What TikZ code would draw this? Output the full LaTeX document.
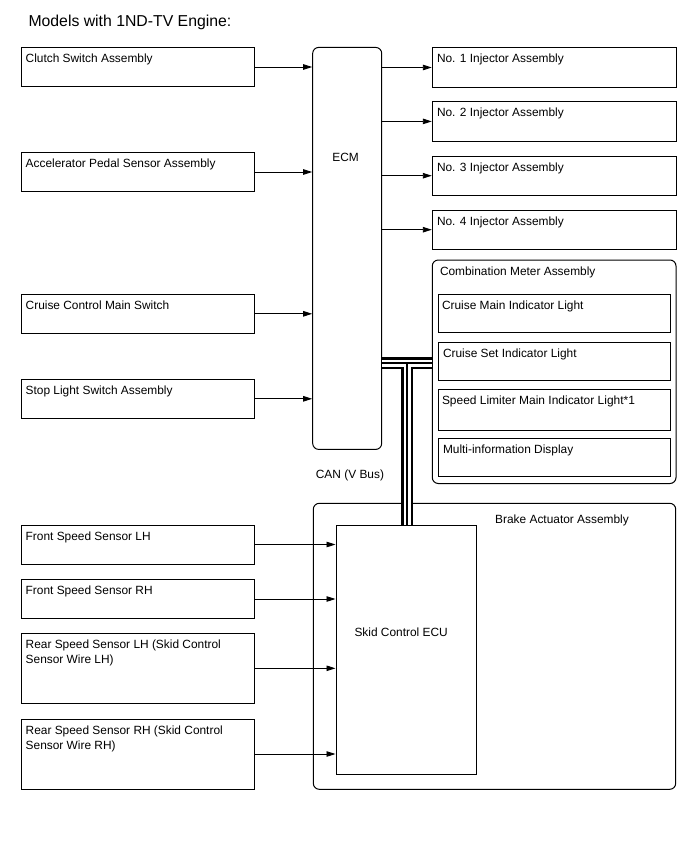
\documentclass[tikz,border=0pt]{standalone}
\usepackage{fontspec}
\setmainfont{Liberation Sans}
\usetikzlibrary{arrows.meta}

\begin{document}
\begin{tikzpicture}[x=1pt, y=-1pt,
    every node/.style={font=\fontsize{11.9}{15}\selectfont},
    lbl/.style={anchor=north west, inner sep=0pt, align=left, label distance=0pt, xshift=5pt, yshift=-6.7pt},
    part/.style={rectangle, draw=black, line width=1pt, inner sep=0pt},
    sensor/.style={part, minimum width=233.5pt, minimum height=39pt},
    wide/.style={sensor, minimum height=70pt},
    injector/.style={part, minimum width=243.7pt, minimum height=39.3pt},
    lamp/.style={part, minimum width=231.7pt, minimum height=38.4pt},
    unitbox/.style={part, rounded corners=6pt},
    sig/.style={line width=0.9pt, -{Triangle[length=9pt, width=5.5pt]}},
    busouter/.style={line width=12pt, black},
    businner/.style={line width=7pt, white},
    buscore/.style={line width=1.2pt, black}
  ]
    \useasboundingbox (0,0) rectangle (688,852);
    \node[anchor=base west, inner sep=0pt, font=\fontsize{15.8}{18}\selectfont] (title) at (28.3,26.7) {Models with 1ND-TV Engine:};

    % inputs to the ECM
    \node[sensor, label={[lbl]north west:Clutch Switch Assembly}] (clutch) at (137.75,67) {};
    \node[sensor, label={[lbl]north west:Accelerator Pedal Sensor Assembly}] (accel) at (137.75,172) {};
    \node[sensor, label={[lbl]north west:Cruise Control Main Switch}] (cruisesw) at (137.75,313.8) {};
    \node[sensor, label={[lbl]north west:Stop Light Switch Assembly}] (stopsw) at (137.75,398.8) {};

    \node[unitbox, minimum width=69pt, minimum height=402pt] (ecm) at (347.2,248.4) {};
    \node[anchor=base west, inner sep=0pt] (ecmtext) at (332.2,161.5) {ECM};

    % injectors
    \node[injector, label={[lbl]north west:No. 1 Injector Assembly}] (inj1) at (554.15,67.5) {};
    \node[injector, label={[lbl]north west:No. 2 Injector Assembly}] (inj2) at (554.15,121.4) {};
    \node[injector, label={[lbl]north west:No. 3 Injector Assembly}] (inj3) at (554.15,175.7) {};
    \node[injector, label={[lbl]north west:No. 4 Injector Assembly}] (inj4) at (554.15,229.7) {};

    % combination meter
    \node[unitbox, minimum width=243.7pt, minimum height=223.5pt, label={[lbl, xshift=3pt]north west:Combination Meter Assembly}] (meter) at (554.15,371.75) {};
    \node[lamp, label={[lbl, xshift=-1pt]north west:Cruise Main Indicator Light}] (lamp1) at (554.15,313.5) {};
    \node[lamp, label={[lbl]north west:Cruise Set Indicator Light}] (lamp2) at (554.15,361.7) {};
    \node[lamp, minimum height=40.7pt, label={[lbl, xshift=-1pt]north west:\resizebox{193pt}{\height}{Speed Limiter Main Indicator Light*1}}] (lamp3) at (554.15,409.65) {};
    \node[lamp, label={[lbl]north west:Multi-information Display}] (lamp4) at (554.15,457.7) {};

    % brake actuator
    \node[unitbox, minimum width=362.4pt, minimum height=286pt] (brake) at (494.5,646.3) {};
    \node[anchor=base west, inner sep=0pt] (braketext) at (495,523) {Brake Actuator Assembly};
    \node[part, minimum width=140pt, minimum height=249pt] (skid) at (406,649.5) {};
    \node[anchor=base west, inner sep=0pt] (skidtext) at (354.3,636.7) {Skid Control ECU};

    \node[sensor, label={[lbl]north west:Front Speed Sensor LH}] (frontlh) at (137.75,544.5) {};
    \node[sensor, label={[lbl]north west:Front Speed Sensor RH}] (frontrh) at (137.75,599) {};
    \node[wide, label={[lbl]north west:{Rear Speed Sensor LH (Skid Control\\Sensor Wire LH)}}] (rearlh) at (137.75,668.3) {};
    \node[wide, label={[lbl]north west:{Rear Speed Sensor RH (Skid Control\\Sensor Wire RH)}}] (rearrh) at (137.75,754) {};

    \foreach \n in {clutch,accel,cruisesw,stopsw}
      \draw[sig] (\n.east) -- (\n.east -| ecm.west);
    \foreach \n in {inj1,inj2,inj3,inj4}
      \draw[sig] (\n.west -| ecm.east) -- (\n.west);
    \foreach \n in {frontlh,frontrh,rearlh,rearrh}
      \draw[sig] (\n.east) -- (\n.east -| skid.west);

    % CAN bus
    \coordinate (tee) at ([xshift=1pt]skid.north |- 0,363);
    \draw[busouter] (ecm.east |- tee) -- (tee -| meter.west) (tee) -- (tee |- skid.north);
    \draw[businner] (ecm.east |- tee) -- (tee -| meter.west) (tee) -- ([yshift=-0.6pt]tee |- skid.north);
    \draw[buscore] (ecm.east |- tee) -- (tee -| meter.west) (tee) -- (tee |- skid.north);
    \node[anchor=base west, inner sep=0pt] (cantext) at (315.7,478.3) {CAN (V Bus)};
  \end{tikzpicture}
\end{document}
